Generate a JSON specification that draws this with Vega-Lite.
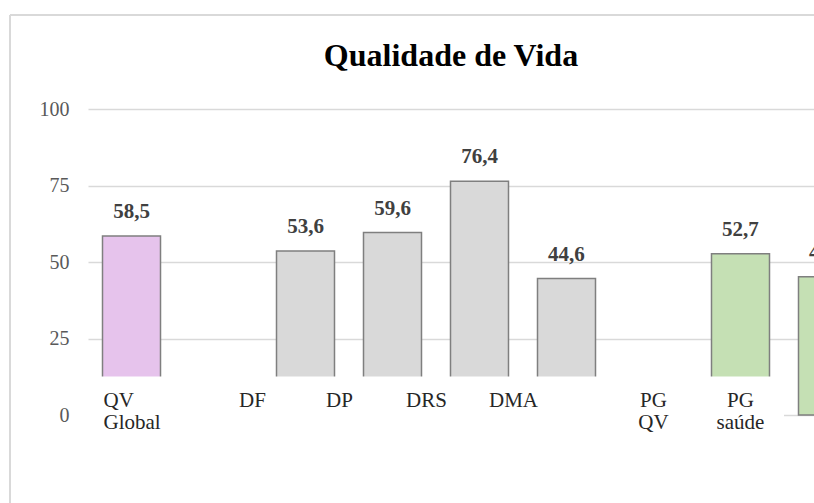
{
  "$schema": "https://vega.github.io/schema/vega-lite/v6.json",
  "width": 726,
  "height": 306,
  "autosize": {"type": "none"},
  "padding": {"left": 88, "top": 109, "right": 0, "bottom": 88},
  "background": "white",
  "title": {
    "text": "Qualidade de Vida",
    "font": "Liberation Serif",
    "fontSize": 32,
    "fontWeight": "bold",
    "color": "#000000",
    "anchor": "middle",
    "frame": "group",
    "baseline": "alphabetic",
    "offset": -83
  },
  "config": {
    "view": {"stroke": null},
    "locale": {"number": {"decimal": ",", "thousands": ".", "grouping": [3], "currency": ["", ""]}}
  },
  "data": {
    "values": [
      {"categoria": "QV Global", "valor": 58.5, "grupo": "QV"},
      {"categoria": " ", "valor": null, "grupo": "QV"},
      {"categoria": "DF", "valor": 53.6, "grupo": "Domínios"},
      {"categoria": "DP", "valor": 59.6, "grupo": "Domínios"},
      {"categoria": "DRS", "valor": 76.4, "grupo": "Domínios"},
      {"categoria": "DMA", "valor": 44.6, "grupo": "Domínios"},
      {"categoria": "  ", "valor": null, "grupo": "PG"},
      {"categoria": "PG QV", "valor": 52.7, "grupo": "PG"},
      {"categoria": "PG saúde", "valor": 45.2, "grupo": "PG"}
    ]
  },
  "layer": [
    {
      "layer": [
        {
          "mark": {"type": "bar", "stroke": "#7F7F7F", "strokeWidth": 1.5},
          "encoding": {
            "y": {
              "field": "valor",
              "type": "quantitative",
              "scale": {"domain": [0, 100], "nice": false},
              "axis": {
                "title": null,
                "orient": "left",
                "domain": false,
                "ticks": false,
                "values": [0, 25, 50, 75, 100],
                "labelFont": "Liberation Serif",
                "labelFontSize": 20,
                "labelColor": "#595959",
                "labelPadding": 19,
                "grid": true,
                "gridColor": "#D9D9D9",
                "gridWidth": 1.3
              }
            },
            "color": {
              "field": "grupo",
              "type": "nominal",
              "scale": {"domain": ["QV", "Domínios", "PG"], "range": ["#E6C3EC", "#D9D9D9", "#C5E0B4"]},
              "legend": null
            }
          }
        },
        {
          "transform": [{"filter": "datum.categoria != 'PG saúde'"}],
          "mark": {"type": "bar", "fill": "white", "width": {"band": 1.5}},
          "encoding": {
            "y": {"datum": 12.6},
            "y2": {"datum": -1.5}
          }
        },
        {
          "mark": {
            "type": "text",
            "font": "Liberation Serif",
            "fontSize": 21,
            "fontWeight": "bold",
            "color": "#404040",
            "baseline": "alphabetic",
            "dy": -18
          },
          "encoding": {
            "y": {"field": "valor", "type": "quantitative"},
            "text": {"field": "valor", "type": "quantitative", "format": ".1f"}
          }
        }
      ],
      "encoding": {
        "x": {
          "field": "categoria",
          "type": "nominal",
          "sort": null,
          "scale": {
            "domain": ["QV Global", " ", "DF", "DP", "DRS", "DMA", "  ", "PG QV", "PG saúde"],
            "range": [0, 783],
            "paddingInner": 0.3333,
            "paddingOuter": 0.1667
          },
          "axis": {
            "title": null,
            "orient": "bottom",
            "domain": false,
            "ticks": false,
            "tickSize": 0,
            "grid": false,
            "labelAngle": 0,
            "labelFont": "Liberation Serif",
            "labelFontSize": 21,
            "labelColor": "#262626",
            "labelBaseline": "alphabetic",
            "labelPadding": -9,
            "labelLineHeight": 22,
            "labelOverlap": false,
            "labelFlush": false,
            "labelBound": false,
            "labelExpr": "split(datum.label, ' ')",
            "labelAlign": {"condition": {"test": "datum.value == 'QV Global'", "value": "left"}, "value": "center"},
            "labelOffset": {
              "condition": [
                {"test": "datum.value == 'QV Global'", "value": -28},
                {"test": "datum.value == 'PG QV' || datum.value == 'PG saúde'", "value": -87}
              ],
              "value": -53
            },
            "zindex": 2
          }
        }
      }
    },
    {
      "mark": {"type": "point", "opacity": 0},
      "encoding": {
        "x": {
          "datum": 0,
          "type": "quantitative",
          "scale": {"domain": [0, 1], "range": [-78.5, 800], "nice": false, "zero": false},
          "axis": {"orient": "top", "offset": 94.5, "title": null, "labels": false, "ticks": false, "grid": false, "domain": true, "domainColor": "#D9D9D9", "domainWidth": 2}
        },
        "y": {
          "datum": 0,
          "type": "quantitative",
          "scale": {"domain": [0, 1], "range": [394, -94.5], "nice": false, "zero": false},
          "axis": {"orient": "left", "offset": 78.5, "title": null, "labels": false, "ticks": false, "grid": false, "domain": true, "domainColor": "#D9D9D9", "domainWidth": 2}
        }
      }
    }
  ],
  "resolve": {
    "scale": {"x": "independent", "y": "independent"},
    "axis": {"x": "independent", "y": "independent"}
  }
}
